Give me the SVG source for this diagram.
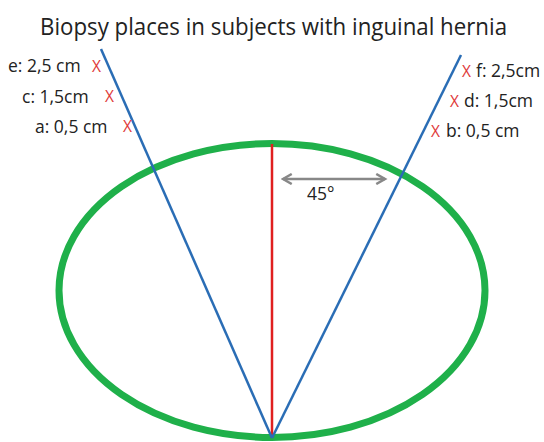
<svg xmlns="http://www.w3.org/2000/svg" width="544" height="442" viewBox="0 0 544 442">
<defs>
<style>
.t{font-family:"Open Sans","Liberation Sans",sans-serif;fill:#222}
.lbl{font-size:17.5px}
.x{font-family:"Open Sans","Liberation Sans",sans-serif;font-size:15.5px;fill:#e03a3a}
.blue{stroke:#2a6db5;stroke-width:2.5;fill:none}
</style>
<marker id="ah" viewBox="0 0 10 10" refX="8" refY="5" markerWidth="5" markerHeight="5" orient="auto-start-reverse">
<path d="M1,1 L8,5 L1,9" fill="none" stroke="#888" stroke-width="2"/>
</marker>
</defs>
<rect width="544" height="442" fill="#fff"/>
<text class="t" x="40" y="35" font-size="23" textLength="467" lengthAdjust="spacingAndGlyphs">Biopsy places in subjects with inguinal hernia</text>
<g id="ellipse"><ellipse cx="272" cy="290.5" rx="213" ry="147" fill="none" stroke="#1fb04a" stroke-width="7"/></g>
<g id="connectors">
<line x1="272" y1="144" x2="272" y2="438" stroke="#e02020" stroke-width="2.5"/>
<line class="blue" x1="101" y1="49" x2="272" y2="438"/>
<line class="blue" x1="461" y1="55" x2="272" y2="438"/>
<line x1="283" y1="179" x2="385" y2="179" stroke="#888" stroke-width="2.5" marker-start="url(#ah)" marker-end="url(#ah)"/>
</g>
<g id="angle"><text class="t lbl" x="307" y="200">45°</text></g>
<g id="left-labels">
<text class="t lbl" x="8" y="72">e: 2,5 cm</text><text class="x" x="92" y="72">X</text>
<text class="t lbl" x="22" y="103">c: 1,5cm</text><text class="x" x="105" y="102">X</text>
<text class="t lbl" x="35" y="133">a: 0,5 cm</text><text class="x" x="123" y="132">X</text>
</g>
<g id="right-labels">
<text class="x" x="462" y="77">X</text><text class="t lbl" x="476" y="77">f: 2,5cm</text>
<text class="x" x="450" y="107">X</text><text class="t lbl" x="464" y="107">d: 1,5cm</text>
<text class="x" x="431" y="137">X</text><text class="t lbl" x="446" y="137">b: 0,5 cm</text>
</g>
</svg>
